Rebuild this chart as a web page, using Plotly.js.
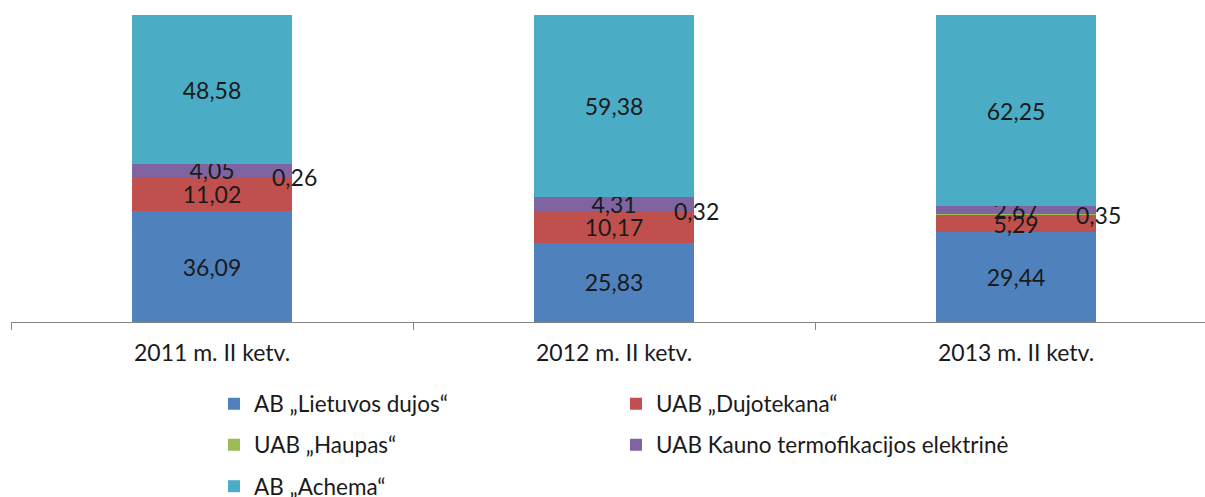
<!DOCTYPE html>
<html>
<head>
<meta charset="utf-8">
<script src="https://cdn.plot.ly/plotly-3.0.1.min.js"></script>
<style>html,body{margin:0;padding:0;background:#fff;}#chart{width:1205px;height:497px;}</style>
</head>
<body>
<div id="chart"></div>
<script>
const categories = ['2011 m. II ketv.', '2012 m. II ketv.', '2013 m. II ketv.'];
const seriesNames = ['AB \u201eLietuvos dujos\u201c', 'UAB \u201eDujotekana\u201c', 'UAB \u201eHaupas\u201c', 'UAB Kauno termofikacijos elektrin\u0117', 'AB \u201eAchema\u201c'];
const lietuvosDujos = [36.09, 25.83, 29.44];
const dujotekana = [11.02, 10.17, 5.29];
const haupas = [0.26, 0.32, 0.35];
const kaunoTE = [4.05, 4.31, 2.67];
const achema = [48.58, 59.38, 62.25];
const colors = ['#4F81BD', '#C0504D', '#9BBB59', '#8064A2', '#4BACC6'];
const legendRow = ['legend', 'legend', 'legend2', 'legend2', 'legend3'];

const FONT = 'Lato, "Open Sans", sans-serif';
const series = [lietuvosDujos, dujotekana, haupas, kaunoTE, achema];
const fmt = v => v.toFixed(2).replace('.', ',');

const traces = series.map((vals, i) => ({
  type: 'bar',
  name: seriesNames[i],
  legend: legendRow[i],
  x: categories,
  y: vals,
  marker: {color: colors[i], line: {width: 0}},
  text: i === 2 ? vals.map(() => '') : vals.map(fmt),
  textposition: i === 2 ? 'none' : 'inside',
  insidetextanchor: 'middle',
  textangle: 0,
  constraintext: 'none',
  insidetextfont: {family: FONT, size: 23, color: '#1a1a1a'},
  hoverinfo: 'none'
}));

const annotations = categories.map((c, k) => ({
  x: c, y: lietuvosDujos[k] + dujotekana[k] + haupas[k] / 2,
  xref: 'x', yref: 'y',
  text: fmt(haupas[k]),
  showarrow: false,
  xshift: 82,
  font: {family: FONT, size: 23, color: '#1a1a1a'}
}));

const legendBase = {
  orientation: 'h', traceorder: 'normal',
  x: 0.17, xanchor: 'left', yanchor: 'middle', yref: 'container',
  entrywidth: 357, entrywidthmode: 'pixels',
  font: {family: FONT, size: 22.5, color: '#1a1a1a'},
  bgcolor: 'rgba(0,0,0,0)',
  itemclick: false
};

const layout = {
  width: 1205, height: 497,
  margin: {l: 11, r: 0, t: 15, b: 175},
  barmode: 'stack',
  bargap: 0.6,
  paper_bgcolor: '#fff', plot_bgcolor: '#fff',
  showlegend: true,
  font: {family: FONT, size: 23, color: '#1a1a1a'},
  xaxis: {
    type: 'category', range: [-0.5, 2.47],
    showline: true, linecolor: '#868686', linewidth: 1,
    ticks: 'outside', ticklen: 7, tickcolor: '#868686', tickson: 'boundaries',
    ticklabelstandoff: 10,
    showgrid: false, zeroline: false,
    tickfont: {family: FONT, size: 23, color: '#1a1a1a'}
  },
  yaxis: {range: [0, 100], visible: false, fixedrange: true},
  legend: Object.assign({}, legendBase, {y: 0.1871}),
  legend2: Object.assign({}, legendBase, {y: 0.1046}),
  legend3: Object.assign({}, legendBase, {y: 0.021}),
  annotations: annotations
};

Plotly.newPlot('chart', traces, layout, {displayModeBar: false, staticPlot: true});
</script>
</body>
</html>
